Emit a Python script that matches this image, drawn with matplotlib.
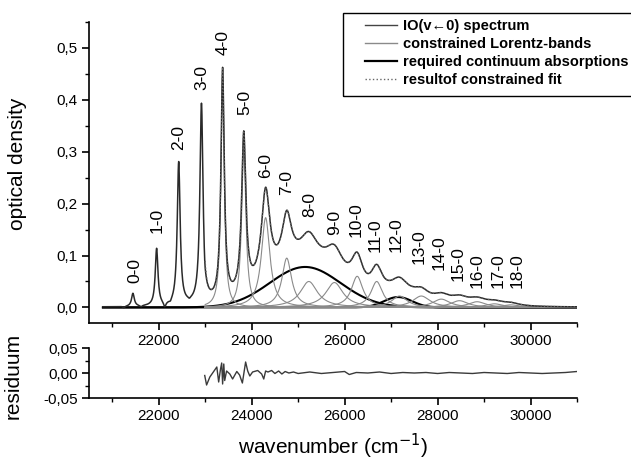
import numpy as np
import matplotlib
matplotlib.use('Agg')
import matplotlib.pyplot as plt
from matplotlib.ticker import MultipleLocator, FuncFormatter
from matplotlib.patches import Rectangle

plt.rcParams['font.family'] = ['Liberation Sans', 'DejaVu Sans']

# vibrational bands: centre (cm-1), height (OD), FWHM (cm-1)
band_names = ['0-0', '1-0', '2-0', '3-0', '4-0', '5-0', '6-0', '7-0', '8-0',
              '9-0', '10-0', '11-0', '12-0', '13-0', '14-0', '15-0', '16-0',
              '17-0', '18-0']
band_centers = [21445, 21955, 22430, 22920, 23375, 23830, 24300, 24755, 25230,
                25780, 26270, 26690, 27180, 27650, 28080, 28470, 28850, 29220, 29570]
band_heights = [0.025, 0.11, 0.275, 0.385, 0.445, 0.305, 0.173, 0.095, 0.05,
                0.048, 0.06, 0.05, 0.022, 0.022, 0.016, 0.013, 0.011, 0.007, 0.005]
band_widths = [70, 70, 75, 80, 85, 110, 220, 250, 450,
               450, 300, 300, 400, 450, 450, 450, 450, 450, 450]
first_fit_band = 4

# label positions (cm-1, OD) of the band assignments
label_wn = [21485, 21957, 22430, 22925, 23376, 23849, 24301, 24753, 25247,
            25785, 26258, 26667, 27118, 27613, 28043, 28452, 28860, 29312, 29720]
label_od = [0.048, 0.144, 0.304, 0.419, 0.487, 0.371, 0.250, 0.217, 0.175,
            0.140, 0.135, 0.106, 0.106, 0.083, 0.073, 0.050, 0.038, 0.038, 0.038]

# continuum absorptions: centre, height, sigma
cont_centers = [25150, 27150]
cont_heights = [0.078, 0.02]
cont_sigmas = [760, 300]

# negative excursions of the measured spectrum below the fit range
dip_centers = [21250, 21620, 22130, 22250, 22660, 22990]
dip_heights = [-0.003, -0.003, -0.01, -0.004, -0.003, -0.016]
dip_widths = [60, 60, 60, 50, 50, 50]

# residuum of the fit
resid_wn = [22990, 23030, 23100, 23160, 23250, 23290, 23330, 23355, 23375, 23400,
            23420, 23460, 23530, 23590, 23680, 23740, 23800, 23870, 23915, 23960,
            24020, 24130, 24215, 24260, 24300, 24350, 24430, 24500, 24580, 24650,
            24720, 24800, 24900, 25000, 25250, 25500, 25750, 26000, 26100, 26250,
            26500, 26750, 27000, 27250, 27500, 27750, 28000, 28250, 28500, 28750,
            29000, 29250, 29500, 29750, 30000, 30250, 30500, 30750, 31000]
resid_val = [-0.005, -0.024, -0.008, 0.0, 0.012, -0.018, 0.008, 0.02, -0.022, 0.018,
             -0.015, 0.004, -0.002, -0.012, 0.003, -0.004, -0.02, 0.022, 0.004, -0.006,
             0.002, 0.005, -0.002, -0.012, 0.004, 0.002, 0.005, -0.001, 0.004, -0.002,
             0.003, 0.0, 0.002, -0.001, 0.002, -0.001, 0.001, 0.003, -0.003, 0.001,
             0.0, 0.002, -0.001, 0.001, 0.0, 0.001, -0.001, 0.001, 0.0, -0.001,
             0.001, 0.0, -0.001, 0.001, 0.0, -0.001, 0.0, 0.001, 0.003]

fit_start = 23000
wn = np.arange(20800, 31001, 5.0)


def lorentz(x, c, h, w):
    return h / (1 + ((x - c) / (w / 2)) ** 2)


bands = [lorentz(wn, c, h, w) for c, h, w in zip(band_centers, band_heights, band_widths)]
conts = [h * np.exp(-(wn - c) ** 2 / (2 * s ** 2))
         for c, h, s in zip(cont_centers, cont_heights, cont_sigmas)]
dips = [lorentz(wn, c, h, w) for c, h, w in zip(dip_centers, dip_heights, dip_widths)]
fit = sum(bands) + sum(conts)
spectrum = fit + sum(dips)
in_fit = wn >= fit_start

fig = plt.figure(figsize=(6.31, 4.61), dpi=100)
ax = fig.add_axes([89 / 631, 138 / 461, 488 / 631, 301 / 461])
axr = fig.add_axes([89 / 631, 63 / 461, 488 / 631, 50 / 461])

for c in conts:
    ax.plot(wn, c, color='black', lw=1.5, zorder=3)
ax.plot(wn, spectrum, color='#2a2a2a', lw=1.1, zorder=4)
for b in bands[first_fit_band:]:
    ax.plot(wn[in_fit], b[in_fit], color='#8a8a8a', lw=0.8, zorder=3)
ax.plot(wn[in_fit], fit[in_fit], color='#666666', lw=0.9, ls=':', zorder=5)

for name, x, y in zip(band_names, label_wn, label_od):
    ax.text(x, y, name, rotation=90, ha='center', va='bottom', fontsize=12.5)

axr.plot(resid_wn, resid_val, color='#3a3a3a', lw=1.0)

comma = FuncFormatter(lambda v, p: ('%.1f' % v).replace('.', ','))
comma2 = FuncFormatter(lambda v, p: ('%.2f' % v).replace('.', ','))

for a in (ax, axr):
    a.set_xlim(20500, 31000)
    a.spines['top'].set_visible(False)
    a.spines['right'].set_visible(False)
    a.spines['left'].set_linewidth(1.2)
    a.spines['bottom'].set_linewidth(1.2)
    a.xaxis.set_major_locator(MultipleLocator(2000))
    a.xaxis.set_minor_locator(MultipleLocator(1000))
    a.tick_params(which='major', direction='out', length=5, width=1.2, labelsize=11, pad=3)
    a.tick_params(which='minor', direction='out', length=3, width=1.0)

ax.set_ylim(-0.03, 0.55)
ax.yaxis.set_major_locator(MultipleLocator(0.1))
ax.yaxis.set_minor_locator(MultipleLocator(0.05))
ax.yaxis.set_major_formatter(comma)
ax.set_ylabel('optical density', fontsize=15)
ax.yaxis.set_label_coords(-0.128, 0.53)

axr.set_ylim(-0.05, 0.05)
axr.yaxis.set_major_locator(MultipleLocator(0.05))
axr.yaxis.set_minor_locator(MultipleLocator(0.025))
axr.yaxis.set_major_formatter(comma2)
axr.set_ylabel('residuum', fontsize=15)
axr.yaxis.set_label_coords(-0.137, 0.45)
axr.set_xlabel('wavenumber (cm$^{-1}$)', fontsize=15, labelpad=6)

# legend with a plain box reaching past the right edge
fig.patches.append(Rectangle((343 / 631, 1 - 96 / 461), 330 / 631, 83 / 461,
                             transform=fig.transFigure, fill=False,
                             edgecolor='black', lw=1.0))
handles = [plt.Line2D([], [], color='#444444', lw=1.0),
           plt.Line2D([], [], color='#8a8a8a', lw=1.0),
           plt.Line2D([], [], color='black', lw=1.6),
           plt.Line2D([], [], color='#666666', lw=1.0, ls=':')]
labels = ['IO(v\u21900) spectrum', 'constrained Lorentz-bands',
          'required continuum absorptions', 'resultof constrained fit']
fig.legend(handles, labels, loc='upper left', bbox_to_anchor=(365 / 631, 1 - 19 / 461),
           frameon=False, borderpad=0, borderaxespad=0, handlelength=2.2,
           handletextpad=0.4, labelspacing=0.28, prop={'size': 10.5, 'weight': 'bold'})

fig.savefig('out.png', dpi=100)
